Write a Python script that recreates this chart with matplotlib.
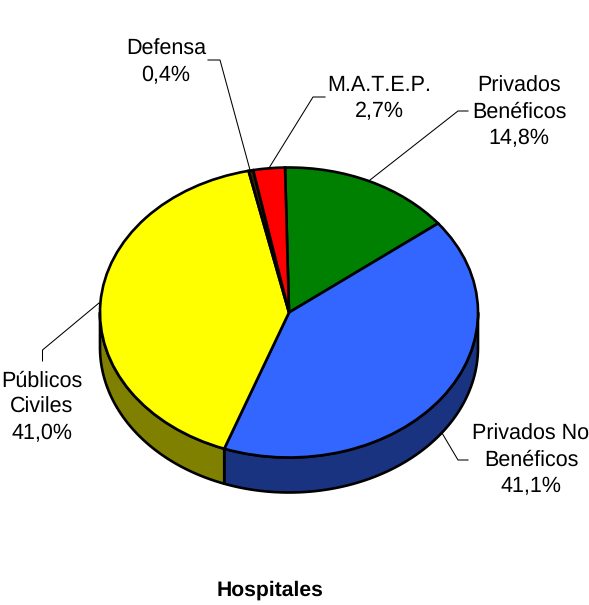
#!/usr/bin/env python3
import numpy as np
import matplotlib as mpl
mpl.use('Agg')
mpl.rcParams['font.family'] = ['Liberation Sans', 'DejaVu Sans']
mpl.rcParams['text.hinting'] = 'no_hinting'
mpl.rcParams['text.kerning_factor'] = 20
import matplotlib.pyplot as plt
#===========================================================================
names = ['Privados\nBenéficos', 'Privados No\nBenéficos', 'Públicos\nCiviles', 'Defensa', 'M.A.T.E.P.']
values = [14.8, 41.1, 41.0, 0.4, 2.7]
labels = ['14,8%', '41,1%', '41,0%', '0,4%', '2,7%']
title = 'Hospitales'
topcolors = ['#008000', '#3366FF', '#FFFF00', '#402000', '#FF0000']
sidecolors = ['#004000', '#1A3380', '#808000', '#201000', '#800000']
#===========================================================================
# pie geometry, in pixels of the 589x605 picture
W, H = 589, 605
cx, cy = 289., 312.5
rx, ry = 189., 145.
depth = 35.
start = -1.2   # degrees clockwise from the top
lwp = 1.9
fs = 15.5

def px(x, y):
    return (x - cx) / rx, (cy - y) / ry

fig = plt.figure(figsize=(W / 100., H / 100.), dpi=100, facecolor='w')
ax = fig.add_axes([0, 0, 1, 1])

# side of the pie first, only the front half can be seen
edges = start + np.cumsum([0] + values) * 3.6
for i in range(len(values)):
    t0 = max(edges[i], 90.)
    t1 = min(edges[i + 1], 270.)
    if t1 <= t0:
        continue
    t = np.radians(np.linspace(t0, t1, 120))
    xs = np.sin(t)
    ys = np.cos(t)
    dy = depth / ry
    ax.fill(np.r_[xs, xs[::-1]], np.r_[ys, ys[::-1] - dy], facecolor=sidecolors[i],
            edgecolor='k', linewidth=lwp, joinstyle='round')

# top of the pie
ax.pie(values, colors=topcolors, startangle=90 - start, counterclock=False, radius=1,
       wedgeprops=dict(edgecolor='k', linewidth=lwp))
ax.set_aspect('auto')
ax.set_xlim((0 - cx) / rx, (W - cx) / rx)
ax.set_ylim((cy - H) / ry, cy / ry)
ax.axis('off')

# leader lines
leaders = [[(468, 111), (458, 111), (370, 180)],
           [(468, 460), (458, 460), (442, 433)],
           [(42.5, 361), (42.5, 350), (99, 303)],
           [(208, 60), (220, 60), (250, 170)],
           [(325, 97), (313, 97), (269, 168)]]
for pts in leaders:
    xy = np.array([px(*p) for p in pts])
    ax.plot(xy[:, 0], xy[:, 1], color='k', lw=0.75, solid_joinstyle='miter')

# labels
pos = [(519, 112.5), (531, 460), (42, 407), (166, 62.5), (379, 98.5)]
for i in range(len(values)):
    x, y = px(*pos[i])
    ax.text(x, y, names[i] + '\n' + labels[i], ha='center', va='center',
            fontsize=fs, linespacing=1.36, color='k')

x, y = px(270.5, 590.5)
ax.text(x, y, title, ha='center', va='center', fontsize=15.2, fontweight='bold', color='k')

plt.savefig('out.png', dpi=100, facecolor='w')
